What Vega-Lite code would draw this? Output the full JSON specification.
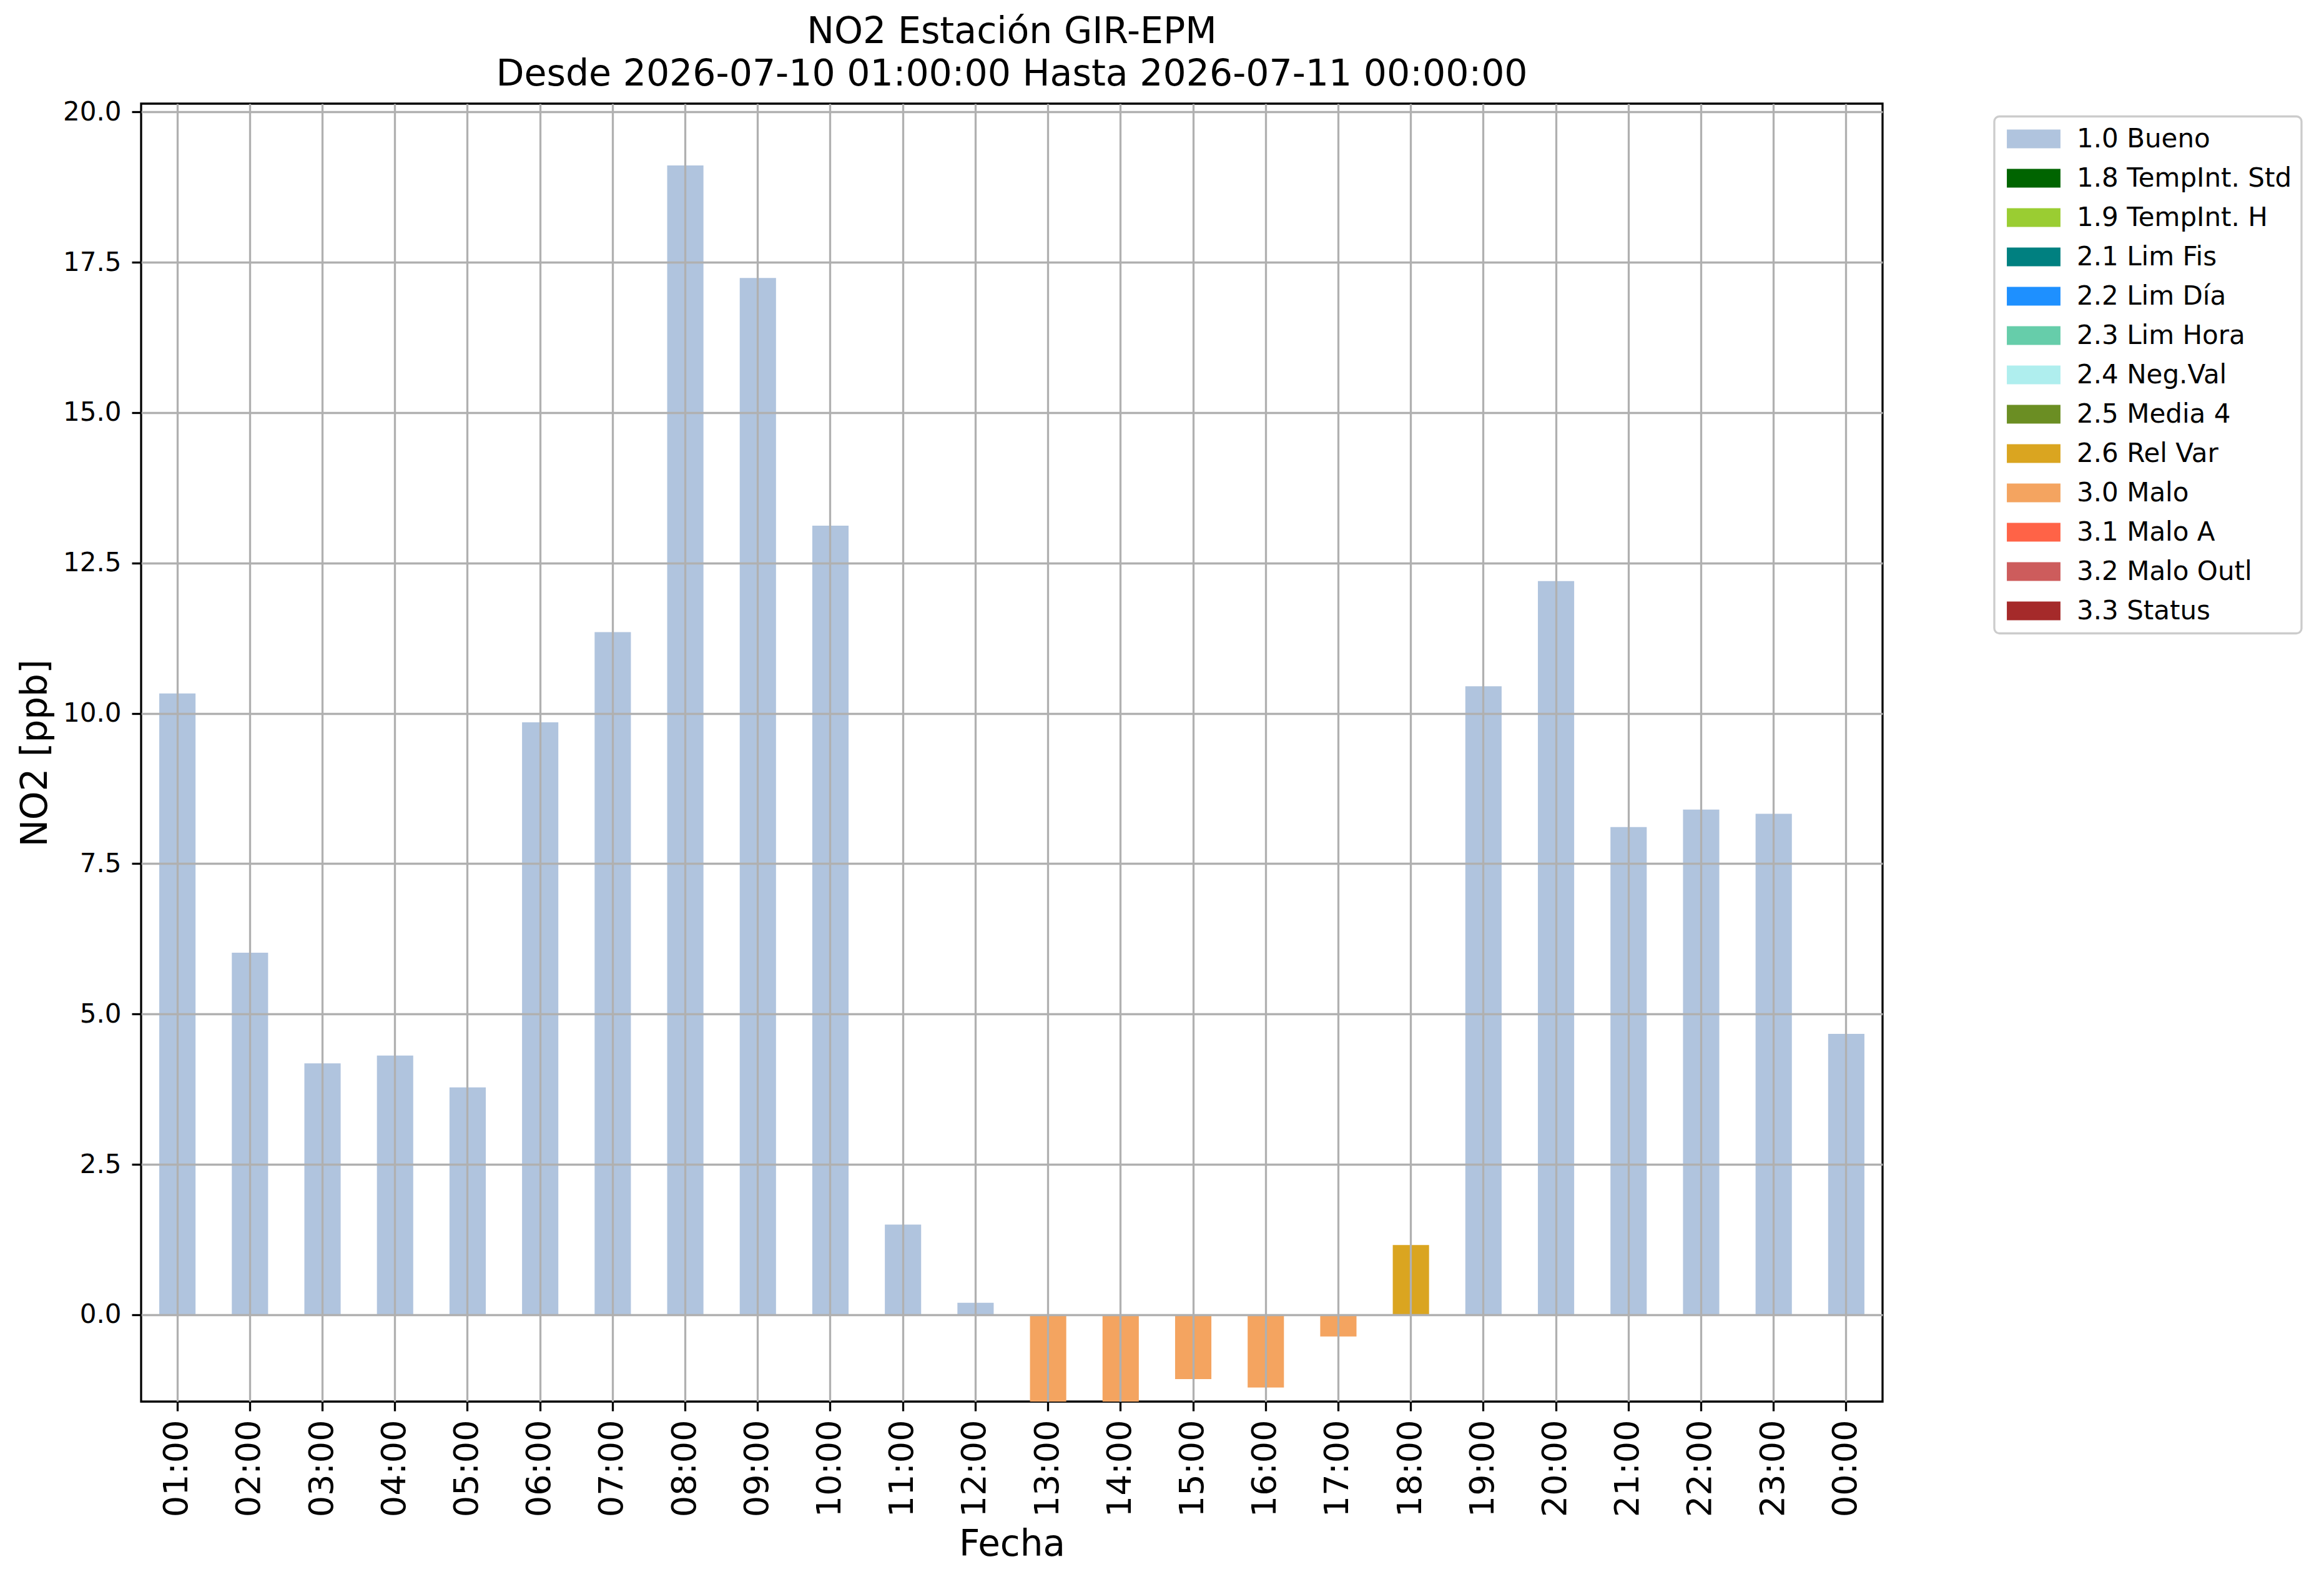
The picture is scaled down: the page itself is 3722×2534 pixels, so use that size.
{
  "$schema": "https://vega.github.io/schema/vega-lite/v6.json",
  "autosize": {"type": "none"},
  "padding": {"left": 226, "top": 166, "right": 707, "bottom": 289},
  "width": 2789,
  "height": 2079,
  "background": "white",
  "config": {
    "font": "DejaVu Sans",
    "view": {"stroke": "black", "strokeWidth": 3.3},
    "legend": {"strokeWidth": 3.3}
  },
  "title": {
    "text": ["NO2 Estación GIR-EPM", "Desde 2026-07-10 01:00:00 Hasta 2026-07-11 00:00:00"],
    "font": "DejaVu Sans",
    "fontSize": 58.5,
    "fontWeight": "normal",
    "color": "black",
    "lineHeight": 68,
    "anchor": "middle",
    "frame": "group",
    "offset": 9
  },
  "data": {
    "values": [
      {"hora": "01:00", "no2": 10.33, "flag": "1.0 Bueno"},
      {"hora": "02:00", "no2": 6.02, "flag": "1.0 Bueno"},
      {"hora": "03:00", "no2": 4.18, "flag": "1.0 Bueno"},
      {"hora": "04:00", "no2": 4.31, "flag": "1.0 Bueno"},
      {"hora": "05:00", "no2": 3.78, "flag": "1.0 Bueno"},
      {"hora": "06:00", "no2": 9.85, "flag": "1.0 Bueno"},
      {"hora": "07:00", "no2": 11.35, "flag": "1.0 Bueno"},
      {"hora": "08:00", "no2": 19.11, "flag": "1.0 Bueno"},
      {"hora": "09:00", "no2": 17.24, "flag": "1.0 Bueno"},
      {"hora": "10:00", "no2": 13.12, "flag": "1.0 Bueno"},
      {"hora": "11:00", "no2": 1.5, "flag": "1.0 Bueno"},
      {"hora": "12:00", "no2": 0.2, "flag": "1.0 Bueno"},
      {"hora": "13:00", "no2": -1.5, "flag": "3.0 Malo"},
      {"hora": "14:00", "no2": -1.5, "flag": "3.0 Malo"},
      {"hora": "15:00", "no2": -1.07, "flag": "3.0 Malo"},
      {"hora": "16:00", "no2": -1.21, "flag": "3.0 Malo"},
      {"hora": "17:00", "no2": -0.36, "flag": "3.0 Malo"},
      {"hora": "18:00", "no2": 1.16, "flag": "2.6 Rel Var"},
      {"hora": "19:00", "no2": 10.45, "flag": "1.0 Bueno"},
      {"hora": "20:00", "no2": 12.2, "flag": "1.0 Bueno"},
      {"hora": "21:00", "no2": 8.11, "flag": "1.0 Bueno"},
      {"hora": "22:00", "no2": 8.4, "flag": "1.0 Bueno"},
      {"hora": "23:00", "no2": 8.33, "flag": "1.0 Bueno"},
      {"hora": "00:00", "no2": 4.67, "flag": "1.0 Bueno"}
    ]
  },
  "mark": {"type": "bar", "clip": true},
  "encoding": {
    "x": {
      "field": "hora",
      "type": "ordinal",
      "sort": null,
      "scale": {"paddingInner": 0.5, "paddingOuter": 0.25},
      "axis": {
        "title": "Fecha",
        "titleFontSize": 58,
        "titleFontWeight": "normal",
        "titleColor": "black",
        "titleBaseline": "alphabetic",
        "titleX": 1394.5,
        "titleY": 246,
        "labelAngle": 270,
        "labelFontSize": 54,
        "labelColor": "black",
        "labelPadding": 14,
        "tickSize": 15,
        "tickWidth": 3.3,
        "tickColor": "black",
        "domain": false,
        "grid": true,
        "gridColor": "#b0b0b0",
        "gridWidth": 3.3,
        "gridOpacity": 1,
        "bandPosition": 0.5,
        "zindex": 1
      }
    },
    "y": {
      "field": "no2",
      "type": "quantitative",
      "scale": {"domain": [-1.443, 20.138], "nice": false, "zero": false},
      "axis": {
        "title": "NO2 [ppb]",
        "titleFontSize": 58,
        "titleFontWeight": "normal",
        "titleColor": "black",
        "titleAngle": 270,
        "titleAlign": "center",
        "titleBaseline": "alphabetic",
        "titleX": -152,
        "titleY": 1040,
        "values": [0, 2.5, 5, 7.5, 10, 12.5, 15, 17.5, 20],
        "format": ".1f",
        "labelFontSize": 42,
        "labelColor": "black",
        "labelPadding": 17,
        "tickSize": 15,
        "tickWidth": 3.3,
        "tickColor": "black",
        "domain": false,
        "grid": true,
        "gridColor": "#b0b0b0",
        "gridWidth": 3.3,
        "gridOpacity": 1,
        "zindex": 1
      }
    },
    "y2": {"datum": 0},
    "color": {
      "field": "flag",
      "type": "nominal",
      "scale": {
        "domain": ["1.0 Bueno", "1.8 TempInt. Std", "1.9 TempInt. H", "2.1 Lim Fis", "2.2 Lim Día", "2.3 Lim Hora", "2.4 Neg.Val", "2.5 Media 4", "2.6 Rel Var", "3.0 Malo", "3.1 Malo A", "3.2 Malo Outl", "3.3 Status"],
        "range": ["#b0c4de", "#006400", "#9acd32", "#008080", "#1e90ff", "#66cdaa", "#afeeee", "#6b8e23", "#daa520", "#f4a460", "#ff6347", "#cd5c5c", "#a52a2a"]
      },
      "legend": {
        "title": null,
        "orient": "none",
        "legendX": 2968,
        "legendY": 20.5,
        "direction": "vertical",
        "symbolType": "M-2.862,-1H2.862V1H-2.862Z",
        "symbolSize": 900,
        "symbolOffset": 27,
        "symbolStrokeWidth": 0,
        "symbolOpacity": 1,
        "labelFontSize": 42,
        "labelColor": "black",
        "labelOffset": 48,
        "labelLimit": 1000,
        "rowPadding": 21,
        "padding": 15,
        "fillColor": "white",
        "strokeColor": "#cccccc",
        "cornerRadius": 8
      }
    }
  }
}
